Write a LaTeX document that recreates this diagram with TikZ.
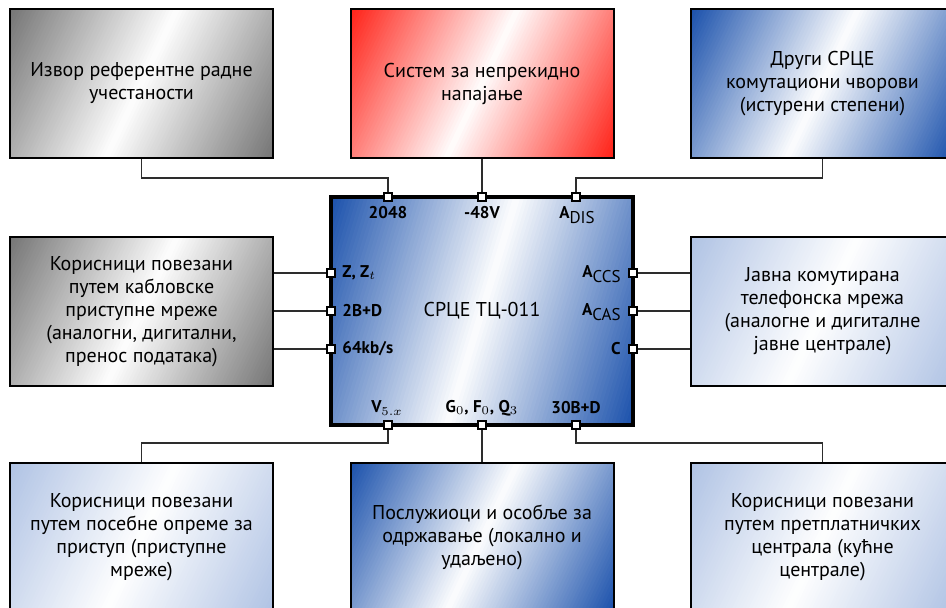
\documentclass[tikz,border=0pt]{standalone}
\usepackage{fontspec}
\setmainfont{PT Sans}
\usetikzlibrary{backgrounds,calc}
\definecolor{cgray}{RGB}{118,118,118}
\definecolor{cred}{RGB}{255,35,25}
\definecolor{cblue}{RGB}{28,82,172}
\definecolor{clight}{RGB}{176,195,228}
\definecolor{cline}{RGB}{45,45,45}
% diagonal "colour - white - colour" fill of a node: #1 node, #2 colour, #3 axis angle, #4 half extent (pt)
\newcommand\diagshade[4]{%
  \begin{scope}
    \clip (#1.south west) rectangle (#1.north east);
    \fill[#2] (#1.south west) rectangle (#1.north east);
    \foreach \k in {50,49,...,1}{
      \pgfmathtruncatemacro\pct{2*\k}
      \pgfmathsetmacro\s{#4*\k/50}
      \fill[#2!\pct!white]
        ($(#1.center)+(#3:\s pt)+(#3+90:250pt)$) --
        ($(#1.center)+(#3:\s pt)+(#3-90:250pt)$) --
        ($(#1.center)+(#3+180:\s pt)+(#3-90:250pt)$) --
        ($(#1.center)+(#3+180:\s pt)+(#3+90:250pt)$) -- cycle;
    }
  \end{scope}}
\begin{document}
\begin{tikzpicture}[x=0.5pt,y=-0.5pt,
  box/.style={draw=black, line width=1pt, minimum width=131.5pt, minimum height=74.5pt,
    align=center, font=\fontsize{10}{11.5}\selectfont, inner sep=0pt, outer sep=0pt},
  mainbox/.style={draw=black, line width=2.2pt, minimum width=151pt, minimum height=114pt,
    font=\fontsize{10}{12}\selectfont, inner sep=0pt, outer sep=0pt},
  port/.style={draw=black, fill=white, line width=0.6pt, minimum size=4pt, inner sep=0pt},
  lab/.style={font=\fontsize{8.5}{10}\selectfont\bfseries, inner sep=0pt},
  conn/.style={draw=cline, line width=0.8pt}
]
\useasboundingbox (0,0) rectangle (946,607);

% outer boxes
\node[box] (tl) at (141.5,83.5) {Извор референтне радне\\учестаности};
\node[box] (tm) at (482,83.5) {Систем за непрекидно\\напајање};
\node[box] (tr) at (822.5,83.5) {Други СРЦЕ\\комутациони чворови\\(истурени степени)};
\node[box] (ml) at (141.5,311.5) {Корисници повезани\\путем кабловске\\приступне мреже\\(аналогни, дигитални,\\пренос података)};
\node[box] (mr) at (822.5,311.5) {Јавна комутирана\\телефонска мрежа\\(аналогне и дигиталне\\јавне централе)};
\node[box] (bl) at (141.5,537.5) {Корисници повезани\\путем посебне опреме за\\приступ (приступне\\мреже)};
\node[box] (bm) at (482,537.5) {Послужиоци и особље за\\одржавање (локално и\\удаљено)};
\node[box] (br) at (822.5,537.5) {Корисници повезани\\путем претплатничких\\централа (кућне\\централе)};

% main box
\node[mainbox] (m) at (482,311) {СРЦЕ ТЦ-011};

% ports
\node[port] (pt1) at (388,197) {};
\node[port] (pt2) at (482,197) {};
\node[port] (pt3) at (576,197) {};
\node[port] (pb1) at (388,425) {};
\node[port] (pb2) at (482,425) {};
\node[port] (pb3) at (576,425) {};
\node[port] (pl1) at (331,273) {};
\node[port] (pl2) at (331,311) {};
\node[port] (pl3) at (331,349) {};
\node[port] (pr1) at (633,273) {};
\node[port] (pr2) at (633,311) {};
\node[port] (pr3) at (633,349) {};

% port labels
\node[lab] (lt1) at (388,213) {2048};
\node[lab] (lt2) at (482,213) {-48V};
\node[lab] (lt3) at (577,215) {A\raisebox{-0.55ex}{\mdseries DIS}};
\node[lab,anchor=west] (ll1) at (342,273) {Z, Z$_t$};
\node[lab,anchor=west] (ll2) at (342,311) {2B+D};
\node[lab,anchor=west] (ll3) at (342,349) {64kb/s};
\node[lab,anchor=east] (lr1) at (621,274) {A\raisebox{-0.55ex}{\mdseries CCS}};
\node[lab,anchor=east] (lr2) at (621,312) {A\raisebox{-0.55ex}{\mdseries CAS}};
\node[lab,anchor=east] (lr3) at (621,349) {C};
\node[lab] (lb1) at (387,408) {V$_{5.x}$};
\node[lab] (lb2) at (482,408) {G$_0$, F$_0$, Q$_3$};
\node[lab] (lb3) at (576,408) {30B+D};

% fills and connectors
\begin{scope}[on background layer]
\diagshade{tl}{cgray}{-25.5}{75.4}
\diagshade{tm}{cred}{-25.5}{75.4}
\diagshade{tr}{cblue}{-25.5}{75.4}
\diagshade{ml}{cgray}{-25.5}{75.4}
\diagshade{mr}{clight}{-25.5}{75.4}
\diagshade{bl}{clight}{-25.5}{75.4}
\diagshade{bm}{cblue}{-25.5}{75.4}
\diagshade{br}{clight}{-25.5}{75.4}
\diagshade{m}{cblue}{-17}{88.9}
\draw[conn] (tl.south) -- ++(0,20) -| (pt1);
\draw[conn] (tm.south) -- (pt2);
\draw[conn] (tr.south) -- ++(0,20) -| (pt3);
\draw[conn] (ml.east |- pl1) -- (pl1);
\draw[conn] (ml.east |- pl2) -- (pl2);
\draw[conn] (ml.east |- pl3) -- (pl3);
\draw[conn] (mr.west |- pr1) -- (pr1);
\draw[conn] (mr.west |- pr2) -- (pr2);
\draw[conn] (mr.west |- pr3) -- (pr3);
\draw[conn] (bl.north) -- ++(0,-20) -| (pb1);
\draw[conn] (bm.north) -- (pb2);
\draw[conn] (br.north) -- ++(0,-20) -| (pb3);
\end{scope}
\end{tikzpicture}
\end{document}
